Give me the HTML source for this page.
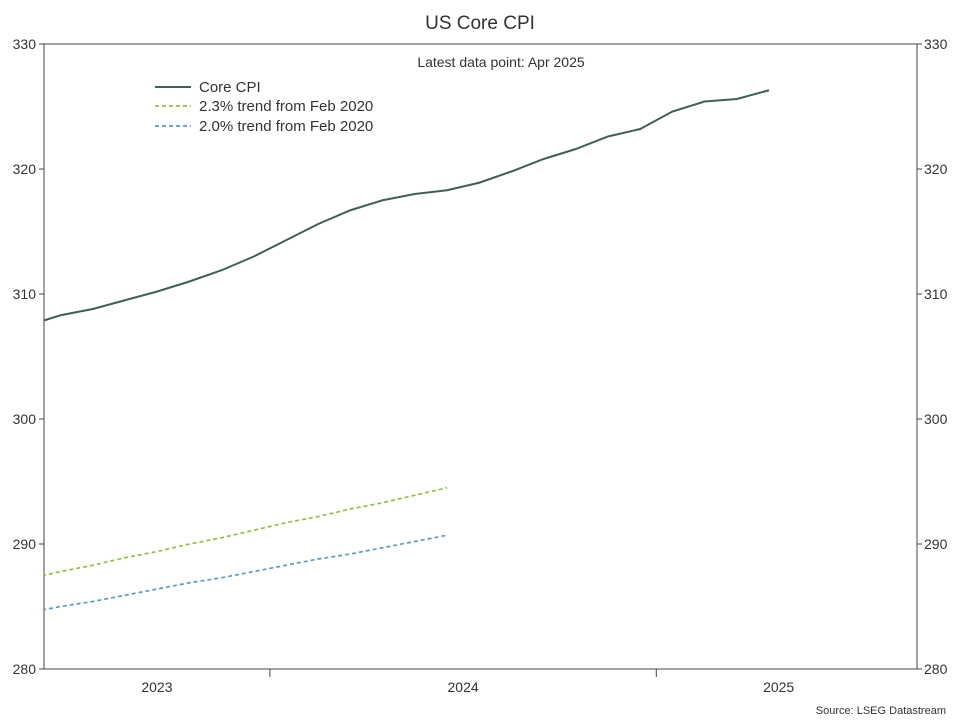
<!DOCTYPE html>
<html><head><meta charset="utf-8"><style>
body{margin:0;background:#fff;font-family:"Liberation Sans",sans-serif;}
svg text{font-family:"Liberation Sans",sans-serif;fill:#333;}
</style></head><body>
<svg width="960" height="720">
<text x="480" y="29" text-anchor="middle" font-size="19">US Core CPI</text>
<text x="501" y="67" text-anchor="middle" font-size="14">Latest data point: Apr 2025</text>
<g id="axes"></g>
<g id="plot"></g>
<g>
<line x1="155" y1="87" x2="191" y2="87" stroke="#3d6152" stroke-width="2"/>
<text x="199" y="92" font-size="15">Core CPI</text>
<line x1="155" y1="106" x2="191" y2="106" stroke="#8cc43c" stroke-width="1.7" stroke-dasharray="4,3"/>
<text x="199" y="111" font-size="15">2.3% trend from Feb 2020</text>
<line x1="155" y1="126" x2="191" y2="126" stroke="#5b9bc4" stroke-width="1.7" stroke-dasharray="4,3"/>
<text x="199" y="131" font-size="15">2.0% trend from Feb 2020</text>
</g>
<text x="946" y="714" text-anchor="end" font-size="11" fill="#222">Source: LSEG Datastream</text>
</svg>
<script>
const coreCpi=[307.0,307.5,308.3,308.8,309.5,310.2,311.0,311.9,313.0,314.3,315.6,316.7,317.5,318.0,318.3,318.9,319.8,320.8,321.6,322.6,323.2,324.6,325.4,325.6,326.3];
const trend23=[287.2,287.8,288.3,288.9,289.4,290.0,290.5,291.1,291.7,292.2,292.8,293.3,293.9,294.5];
const trend20=[284.5,285.0,285.4,285.9,286.4,286.9,287.3,287.8,288.3,288.8,289.2,289.7,290.2,290.7];
const yTicks=[280,290,300,310,320,330];
const yearLabels=["2023","2024","2025"];
const L=44,R=917,T=44,B=669;
const ns="http://www.w3.org/2000/svg";
function y(v){return B-(v-280)/50*(B-T);}
// month index 0 = Apr 2023, Apr 2025 = 24
function x(i){return 769-(24-i)*32.2;}
function mk(t,a,p){const e=document.createElementNS(ns,t);for(const k in a)e.setAttribute(k,a[k]);p.appendChild(e);return e;}
const ax=document.getElementById('axes'),pl=document.getElementById('plot');
const defs=mk('defs',{},ax);const cp=mk('clipPath',{id:'c'},defs);mk('rect',{x:L,y:T,width:R-L,height:B-T},cp);
const frame=mk('rect',{x:L,y:T,width:R-L,height:B-T,fill:'none',stroke:'#444','stroke-width':1},ax);


yTicks.forEach(v=>{
 const t1=mk('text',{x:36,y:y(v)+5,'text-anchor':'end','font-size':14},ax);t1.textContent=v;
 
 
 const t2=mk('text',{x:924,y:y(v)+5,'font-size':14},ax);t2.textContent=v;
 
 
 mk('line',{x1:L-5,x2:L,y1:y(v),y2:y(v),stroke:'#444'},ax);
 mk('line',{x1:R,x2:R+5,y1:y(v),y2:y(v),stroke:'#444'},ax);
});
// year boundaries: Jan 2024 start at index 8.5, Jan 2025 at 20.5
const bounds=[L,x(8.5),x(20.5),R];
bounds.slice(1,3).forEach(bx=>mk('line',{x1:bx,x2:bx,y1:B,y2:B+8,stroke:'#444'},ax));
yearLabels.forEach((s,i)=>{
 const t=mk('text',{x:(bounds[i]+bounds[i+1])/2-(i==2?8:0),y:692,'text-anchor':'middle','font-size':14},ax);t.textContent=s;
 
 
});
const g=mk('g',{'clip-path':'url(#c)'},pl);
function line(arr,off,col,dash,w,name){
 const p=mk('polyline',{points:arr.map((v,i)=>x(i+off)+','+y(v)).join(' '),fill:'none',stroke:col,'stroke-width':w},g);
 if(dash)p.setAttribute('stroke-dasharray',dash);
 
 
}
line(trend20,1,'#5b9bc4','4,3',1.7,'trend-2-0-line');
line(trend23,1,'#8cc43c','4,3',1.7,'trend-2-3-line');
line(coreCpi,0,'#3d6152',null,2,'core-cpi-line');
</script>
</body></html>
